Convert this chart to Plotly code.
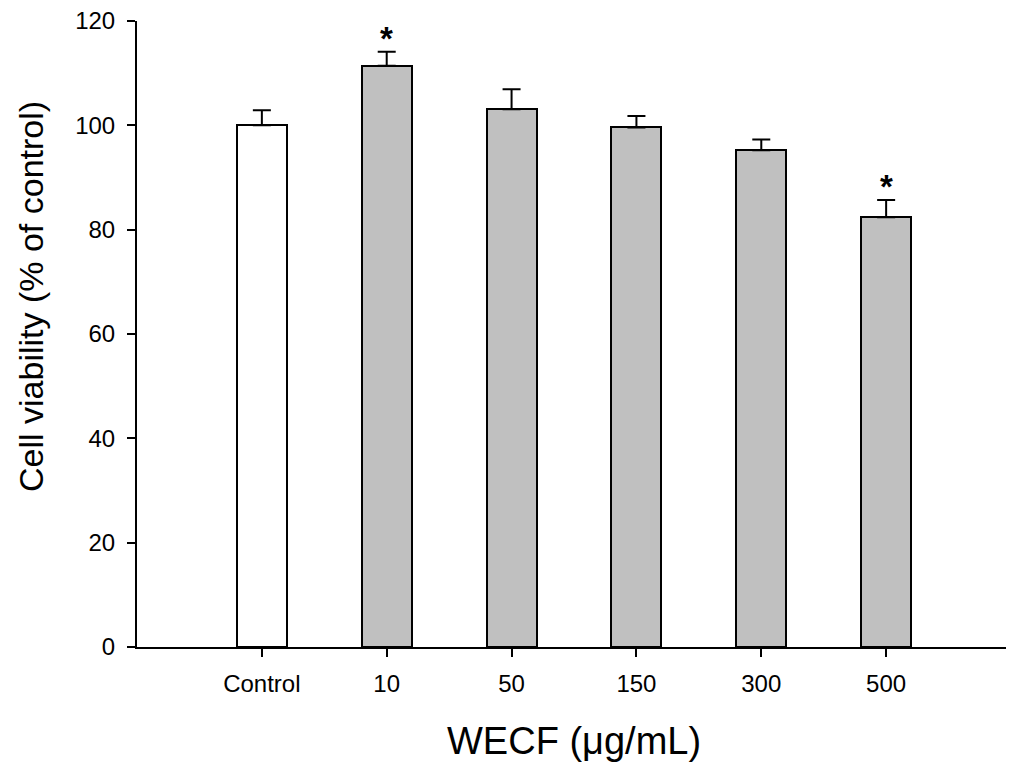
import plotly.graph_objects as go

categories = ["Control", "10", "50", "150", "300", "500"]
values = [100.0, 111.4, 103.1, 99.6, 95.2, 82.4]
errors = [2.9, 2.7, 3.8, 2.2, 2.1, 3.3]
significant = [False, True, False, False, False, True]
fill_colors = ["#FFFFFF", "#C0C0C0", "#C0C0C0", "#C0C0C0", "#C0C0C0", "#C0C0C0"]

xpos = list(range(len(categories)))
FONT = "Liberation Sans, Arial, sans-serif"

fig = go.Figure()
fig.add_trace(go.Bar(
    x=xpos, y=values, width=0.4,
    marker=dict(color=fill_colors, line=dict(color="black", width=2)),
    error_y=dict(type="data", symmetric=False, array=errors,
                 arrayminus=[0] * len(errors), color="black",
                 thickness=2, width=9),
    showlegend=False,
))

for xi, v, e, s in zip(xpos, values, errors, significant):
    if s:
        fig.add_annotation(x=xi, y=v + e, xref="x", yref="y", text="<b>*</b>",
                           showarrow=False, yanchor="bottom", yshift=-7,
                           font=dict(family=FONT, size=33, color="black"))

fig.add_annotation(xref="paper", yref="paper", x=(31 - 137) / 874,
                   y=(647 - 297) / 626, text="Cell viability (% of control)",
                   textangle=-90, showarrow=False, xanchor="center",
                   yanchor="middle", font=dict(family=FONT, size=34, color="black"))
fig.add_annotation(xref="paper", yref="paper", x=(574 - 137) / 874,
                   y=(647 - 741) / 626, text="WECF (\u03bcg/mL)",
                   showarrow=False, xanchor="center", yanchor="middle",
                   font=dict(family=FONT, size=38, color="black"))

# page body adds an 8px margin; compensate so the plot sits where the reference does
fig.update_layout(
    width=1006, height=763,
    margin=dict(l=129, r=3, t=13, b=124),
    paper_bgcolor="white", plot_bgcolor="white",
    font=dict(family=FONT, size=24, color="black"),
    bargap=0,
)
fig.update_xaxes(range=[-1, 6], tickvals=xpos, ticktext=categories,
                 showline=True, linecolor="black", linewidth=2,
                 ticks="outside", ticklen=8, tickwidth=2, tickcolor="black",
                 showgrid=False, zeroline=False, ticklabelstandoff=6,
                 ticklabeloverflow="allow", automargin=False)
fig.update_yaxes(range=[0, 120], tickvals=[0, 20, 40, 60, 80, 100, 120],
                 showline=True, linecolor="black", linewidth=2,
                 ticks="outside", ticklen=8, tickwidth=2, tickcolor="black",
                 showgrid=False, zeroline=False, ticklabelstandoff=7,
                 ticklabeloverflow="allow", automargin=False)

fig.write_html("out.html")
